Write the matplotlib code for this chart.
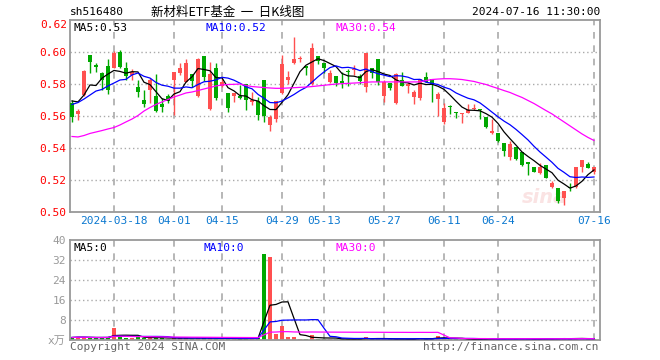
import matplotlib
matplotlib.use("Agg")
import matplotlib.pyplot as plt
import matplotlib.transforms as mtransforms
import numpy as np
import pandas as pd

# trading days shown (2024-03-07 .. 2024-07-16, exchange holidays removed)
holidays = ["2024-04-04", "2024-04-05", "2024-05-01", "2024-05-02", "2024-05-03", "2024-06-10"]
dates = [d for d in pd.bdate_range("2024-03-07", "2024-07-16") if d.strftime("%Y-%m-%d") not in holidays]

tick_dates = ["2024-03-18", "2024-04-01", "2024-04-15", "2024-04-29", "2024-05-13",
              "2024-05-27", "2024-06-11", "2024-06-24", "2024-07-16"]
tick_labels = ["2024-03-18", "04-01", "04-15", "04-29", "05-13", "05-27", "06-11", "06-24", "07-16"]

opens = [0.5681, 0.5611, 0.5731, 0.5981, 0.5919, 0.5867, 0.5913, 0.5898, 0.6002, 0.5898,
         0.5858, 0.5783, 0.5700, 0.5765, 0.5725, 0.5675, 0.5725, 0.5825, 0.5867, 0.5815,
         0.5860, 0.5725, 0.5975, 0.5644, 0.5900, 0.5785, 0.5742, 0.5727, 0.5725, 0.5800,
         0.5686, 0.5694, 0.5825, 0.5544, 0.5579, 0.5742, 0.5825, 0.5930, 0.5954, 0.5915,
         0.5800, 0.5975, 0.5929, 0.5815, 0.5850, 0.5817, 0.5880, 0.5885, 0.5852, 0.5780,
         0.5898, 0.5954, 0.5727, 0.5804, 0.5680, 0.5825, 0.5790, 0.5717, 0.5714, 0.5845,
         0.5830, 0.5704, 0.5564, 0.5661, 0.5625, 0.5613, 0.5617, 0.5642, 0.5642, 0.5592,
         0.5494, 0.5492, 0.5430, 0.5342, 0.5404, 0.5377, 0.5310, 0.5283, 0.5246, 0.5294,
         0.5154, 0.5152, 0.5086, 0.5156, 0.5158, 0.5283, 0.5298, 0.5252]
highs = [0.5700, 0.5642, 0.5890, 0.5981, 0.5933, 0.5877, 0.5955, 0.6008, 0.6012, 0.5940,
         0.5895, 0.5825, 0.5763, 0.5840, 0.5860, 0.5710, 0.5735, 0.5877, 0.5930, 0.5955,
         0.5860, 0.5960, 0.5975, 0.5935, 0.5930, 0.5838, 0.5742, 0.5746, 0.5792, 0.5800,
         0.5752, 0.5721, 0.5825, 0.5606, 0.5696, 0.5981, 0.5883, 0.6096, 0.5975, 0.5915,
         0.6054, 0.5975, 0.5929, 0.5890, 0.5850, 0.5877, 0.5895, 0.5919, 0.5865, 0.5996,
         0.5898, 0.5954, 0.5825, 0.5804, 0.5867, 0.5877, 0.5815, 0.5760, 0.5831, 0.5875,
         0.5830, 0.5752, 0.5680, 0.5667, 0.5625, 0.5617, 0.5675, 0.5675, 0.5642, 0.5592,
         0.5580, 0.5492, 0.5430, 0.5446, 0.5404, 0.5377, 0.5315, 0.5283, 0.5304, 0.5294,
         0.5194, 0.5152, 0.5133, 0.5179, 0.5283, 0.5327, 0.5315, 0.5283]
lows = [0.5563, 0.5575, 0.5725, 0.5871, 0.5877, 0.5760, 0.5740, 0.5898, 0.5898, 0.5825,
        0.5827, 0.5721, 0.5656, 0.5680, 0.5625, 0.5627, 0.5680, 0.5606, 0.5856, 0.5810,
        0.5783, 0.5720, 0.5820, 0.5635, 0.5700, 0.5780, 0.5627, 0.5690, 0.5705, 0.5638,
        0.5669, 0.5575, 0.5560, 0.5508, 0.5565, 0.5740, 0.5800, 0.5925, 0.5940, 0.5856,
        0.5795, 0.5925, 0.5871, 0.5805, 0.5790, 0.5773, 0.5787, 0.5856, 0.5800, 0.5752,
        0.5840, 0.5795, 0.5690, 0.5760, 0.5675, 0.5790, 0.5742, 0.5676, 0.5700, 0.5810,
        0.5690, 0.5600, 0.5550, 0.5611, 0.5586, 0.5554, 0.5617, 0.5635, 0.5580, 0.5525,
        0.5490, 0.5435, 0.5352, 0.5325, 0.5325, 0.5288, 0.5231, 0.5248, 0.5240, 0.5210,
        0.5150, 0.5054, 0.5044, 0.5133, 0.5152, 0.5252, 0.5277, 0.5237]
closes = [0.5596, 0.5631, 0.5883, 0.5935, 0.5908, 0.5825, 0.5760, 0.5996, 0.5904, 0.5852,
          0.5873, 0.5752, 0.5675, 0.5828, 0.5631, 0.5654, 0.5696, 0.5877, 0.5902, 0.5930,
          0.5819, 0.5956, 0.5846, 0.5863, 0.5713, 0.5815, 0.5648, 0.5746, 0.5715, 0.5700,
          0.5700, 0.5606, 0.5602, 0.5596, 0.5696, 0.5925, 0.5846, 0.5958, 0.5960, 0.5898,
          0.6027, 0.5946, 0.5902, 0.5867, 0.5804, 0.5808, 0.5873, 0.5892, 0.5819, 0.5996,
          0.5867, 0.5815, 0.5815, 0.5773, 0.5860, 0.5790, 0.5798, 0.5748, 0.5831, 0.5815,
          0.5800, 0.5735, 0.5652, 0.5654, 0.5621, 0.5617, 0.5638, 0.5648, 0.5638, 0.5533,
          0.5506, 0.5444, 0.5383, 0.5425, 0.5331, 0.5294, 0.5302, 0.5252, 0.5279, 0.5215,
          0.5179, 0.5069, 0.5133, 0.5150, 0.5283, 0.5325, 0.5277, 0.5279]

# moving averages before enough closes are on screen
ma5_head = [0.5694, 0.5688, 0.5731, 0.5794]
ma10_head = [0.5672, 0.5684, 0.5706, 0.5731, 0.5756, 0.5766, 0.5788, 0.5806, 0.5825]

ma30 = [0.5472, 0.5469, 0.5478, 0.5491, 0.5500, 0.5509, 0.5519, 0.5528, 0.5544, 0.5563,
        0.5581, 0.5603, 0.5631, 0.5653, 0.5672, 0.5688, 0.5703, 0.5719, 0.5731, 0.5744,
        0.5750, 0.5759, 0.5769, 0.5778, 0.5788, 0.5794, 0.5797, 0.5798, 0.5800, 0.5791,
        0.5784, 0.5781, 0.5778, 0.5775, 0.5773, 0.5773, 0.5775, 0.5777, 0.5779, 0.5781,
        0.5784, 0.5788, 0.5792, 0.5796, 0.5800, 0.5802, 0.5804, 0.5806, 0.5808, 0.5811,
        0.5813, 0.5813, 0.5813, 0.5813, 0.5813, 0.5813, 0.5813, 0.5813, 0.5813, 0.5822,
        0.5828, 0.5831, 0.5833, 0.5833, 0.5831, 0.5828, 0.5822, 0.5816, 0.5806, 0.5797,
        0.5784, 0.5772, 0.5759, 0.5747, 0.5731, 0.5716, 0.5697, 0.5678, 0.5656, 0.5634,
        0.5613, 0.5588, 0.5563, 0.5538, 0.5513, 0.5488, 0.5466, 0.5447]

# volume, in 10k units
volume = [1.0, 1.2, 1.1, 0.9, 0.8, 1.0, 1.2, 4.9, 1.5, 1.0,
          0.8, 1.2, 1.0, 0.9, 0.8, 0.7, 0.6, 0.9, 0.7, 0.8,
          0.6, 0.9, 0.7, 0.8, 0.6, 0.5, 0.7, 0.6, 0.5, 0.7,
          0.6, 0.8, 34.3, 33.1, 2.3, 5.5, 1.2, 1.2, 0.5, 0.6,
          1.9, 0.6, 0.5, 0.4, 0.5, 0.4, 0.3, 0.4, 0.5, 1.1,
          0.4, 0.5, 0.4, 0.3, 0.6, 0.4, 0.3, 0.4, 1.0, 0.4,
          0.5, 1.6, 0.8, 0.4, 0.3, 0.3, 0.4, 0.3, 0.4, 0.5,
          0.4, 0.5, 0.6, 0.5, 0.4, 0.5, 0.4, 0.3, 0.5, 0.6,
          0.4, 0.7, 0.6, 0.4, 0.8, 0.6, 0.4, 0.5]

RED = "#ff5050"
GREEN = "#00a800"
GRID = "#aaaaaa"
MONO = ["DejaVu Sans Mono", "Noto Sans CJK SC"]

o = np.array(opens); h = np.array(highs); l = np.array(lows); c = np.array(closes)
x = np.arange(len(c))
up = c >= o
colors = np.where(up, RED, GREEN)

cs = pd.Series(c)
ma5 = cs.rolling(5).mean()
ma5.iloc[:4] = ma5_head
ma10 = cs.rolling(10).mean()
ma10.iloc[:9] = ma10_head

vs = pd.Series(volume)
vma5 = vs.rolling(5, min_periods=1).mean()
vma10 = vs.rolling(10, min_periods=1).mean()
vma30 = vs.rolling(30, min_periods=1).mean()

date_str = [d.strftime("%Y-%m-%d") for d in dates]
tick_idx = [date_str.index(t) for t in tick_dates]

W, H = 660, 360
fig = plt.figure(figsize=(6.6, 3.6), dpi=100)
ax = fig.add_axes([70 / W, 148 / H, 530 / W, 192 / H])
axv = fig.add_axes([70 / W, 20 / H, 530 / W, 100 / H])

xlim = (-0.33, 88.0)

# ---- price panel
for a in (ax, axv):
    a.set_xlim(*xlim)
    for s in a.spines.values():
        s.set_color("#999999")
        s.set_linewidth(1.3)
    a.set_xticks(tick_idx)
    for t in tick_idx:
        a.axvline(t, color=GRID, lw=1.2, ls=(0, (4, 4)), zorder=0)

ax.set_ylim(0.50, 0.62)
for yv in [0.52, 0.54, 0.56, 0.58, 0.60]:
    ax.axhline(yv, color=GRID, lw=1, ls=(0, (1, 2)), zorder=0)

body_bottom = np.minimum(o, c)
body_h = np.maximum(np.abs(c - o), 0.0004)
ax.vlines(x, l, h, colors=colors, lw=1, zorder=2)
ax.bar(x, body_h, bottom=body_bottom, width=0.78, color=colors, zorder=3, linewidth=0)

ax.plot(x, ma5, color="black", lw=0.9, zorder=4)
ax.plot(x, ma10, color="#0000ff", lw=0.9, zorder=4)
ax.plot(x, ma30, color="#ff00ff", lw=0.9, zorder=4)

# faint logo watermark
ax.text(0.895, 0.075, "sina", transform=ax.transAxes, color="#fae3e3", fontsize=14,
        style="italic", weight="bold", ha="center", va="center", zorder=1)

ax.set_yticks([0.50, 0.52, 0.54, 0.56, 0.58, 0.60])
ax.set_yticklabels(["0.50", "0.52", "0.54", "0.56", "0.58", "0.60"])
ax.tick_params(axis="y", length=0, pad=3, labelcolor="#ff0000", labelsize=8)
ax.set_xticklabels(tick_labels)
ax.tick_params(axis="x", length=0, pad=3, labelcolor="#0b78d0", labelsize=8)
for lab in ax.get_xticklabels() + ax.get_yticklabels():
    lab.set_family(MONO)
trans = mtransforms.blended_transform_factory(ax.transAxes, ax.transData)
ax.text(-0.006, 0.62, "0.62", transform=trans, ha="right", va="top", color="#ff0000",
        fontsize=8, family=MONO)

ax.text(4 / 530, 0.985, "MA5:%.2f" % ma5.iloc[-1], transform=ax.transAxes, va="top",
        fontsize=8, family=MONO, color="black")
ax.text(136 / 530, 0.985, "MA10:%.2f" % ma10.iloc[-1], transform=ax.transAxes, va="top",
        fontsize=8, family=MONO, color="#0000ff")
ax.text(266 / 530, 0.985, "MA30:%.2f" % ma30[-1], transform=ax.transAxes, va="top",
        fontsize=8, family=MONO, color="#ff00ff")

# ---- volume panel
axv.set_ylim(0, 40)
for yv in [8, 16, 24, 32]:
    axv.axhline(yv, color=GRID, lw=1, ls=(0, (1, 2)), zorder=0)
axv.bar(x, volume, width=0.78, color=colors, linewidth=0, zorder=2)
axv.plot(x, vma5, color="black", lw=0.9, zorder=3)
axv.plot(x, vma10, color="#0000ff", lw=0.9, zorder=3)
axv.plot(x, vma30, color="#ff00ff", lw=0.9, zorder=3)
axv.set_yticks([0, 8, 16, 24, 32, 40])
axv.set_yticklabels(["x万", "8", "16", "24", "32", "40"])
axv.tick_params(axis="y", length=0, pad=3, labelcolor="#999999", labelsize=8)
axv.set_xticklabels([])
axv.tick_params(axis="x", length=0)
for lab in axv.get_yticklabels():
    lab.set_family(MONO)

axv.text(4 / 530, 0.97, "MA5:%d" % int(vma5.iloc[-1]), transform=axv.transAxes, va="top",
         fontsize=8, family=MONO, color="black")
axv.text(134 / 530, 0.97, "MA10:%d" % int(vma10.iloc[-1]), transform=axv.transAxes, va="top",
         fontsize=8, family=MONO, color="#0000ff")
axv.text(265 / 530, 0.97, "MA30:%d" % int(vma30.iloc[-1]), transform=axv.transAxes, va="top",
         fontsize=8, family=MONO, color="#ff00ff")

# ---- header / footer text
fig.text(70 / W, 1 - 12 / H, "sh516480", ha="left", va="center", fontsize=8, family=MONO)
fig.text(228 / W, 1 - 12 / H, "新材料ETF基金  一  日K线图", ha="center", va="center",
         fontsize=9, family=["Noto Sans CJK SC", "DejaVu Sans"])
fig.text(600 / W, 1 - 12 / H, "2024-07-16 11:30:00", ha="right", va="center", fontsize=8, family=MONO)
fig.text(70 / W, 1 - 347 / H, "Copyright 2024 SINA.COM", ha="left", va="center",
         fontsize=8, family=MONO, color="#666666")
fig.text(598 / W, 1 - 347 / H, "http://finance.sina.com.cn", ha="right", va="center",
         fontsize=8, family=MONO, color="#666666")

fig.savefig("out.png", dpi=100, facecolor="white")
